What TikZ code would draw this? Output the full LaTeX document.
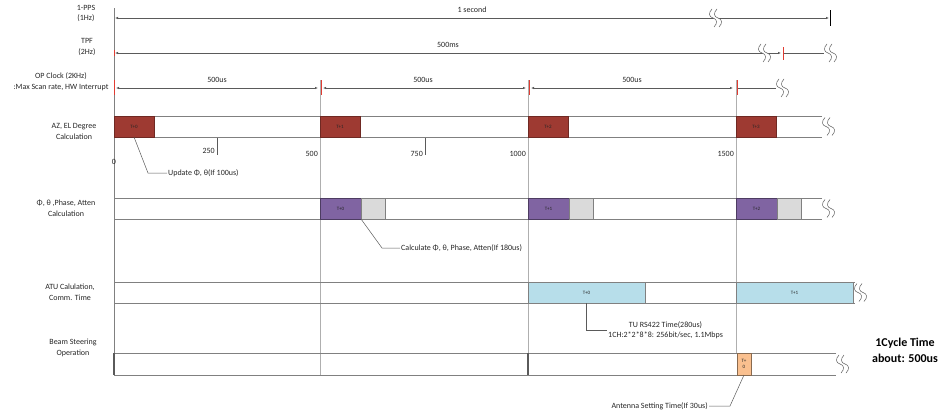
\documentclass[tikz,border=0pt]{standalone}
\usepackage{fontspec}
\setmainfont{Carlito}
\usepackage{tikz}
\usetikzlibrary{arrows.meta, positioning}
\definecolor{azred}{RGB}{158, 58, 50}
\definecolor{phipurple}{RGB}{128, 100, 162}
\definecolor{waitgray}{RGB}{218, 218, 218}
\definecolor{atublue}{RGB}{183, 222, 234}
\definecolor{bsorange}{RGB}{250, 192, 143}
\definecolor{linegray}{RGB}{128, 128, 128}
\definecolor{guidegray}{RGB}{175, 175, 175}
\definecolor{dimgray}{RGB}{90, 90, 90}
\definecolor{tickred}{RGB}{225, 60, 50}

% break mark (two wavy strokes)
\tikzset{
  brk/.pic={
    \fill[white] (-1,-9) .. controls (-5,-5) and (-4,-1) .. (0,0) .. controls (4,1) and (5,5) .. (1,9)
      -- (6,9) .. controls (10,5) and (9,1) .. (5,0) .. controls (1,-1) and (0,-5) .. (4,-9) -- cycle;
    \draw[dimgray, line width=0.5pt] (-1,-9) .. controls (-5,-5) and (-4,-1) .. (0,0) .. controls (4,1) and (5,5) .. (1,9);
    \draw[dimgray, line width=0.5pt] (4,-9) .. controls (0,-5) and (1,-1) .. (5,0) .. controls (9,1) and (10,5) .. (6,9);
  }
}

\begin{document}
\begin{tikzpicture}[x=1pt, y=-1pt, font=\fontsize{8}{10.5}\selectfont, text=black!85,
  lbl/.style={align=center, inner sep=0pt},
  barline/.style={draw=linegray, line width=0.9pt},
  guide/.style={draw=guidegray, line width=0.5pt},
  dimline/.style={draw=dimgray, line width=0.8pt, {Latex[length=3pt,width=2.4pt]}-{Latex[length=3pt,width=2.4pt]}},
  redtick/.style={draw=tickred, line width=0.8pt},
  tbox/.style={anchor=west, minimum height=21pt, inner sep=0pt, outer sep=0pt, line width=0.7pt, font=\fontsize{5}{5.5}\selectfont},
  azbox/.style={tbox, fill=azred, draw=azred!70!black, minimum width=40pt},
  phibox/.style={tbox, fill=phipurple, draw=phipurple!60!black, minimum width=41pt},
  waitbox/.style={tbox, fill=waitgray, draw=linegray, minimum width=24pt},
  atubox/.style={tbox, fill=atublue, draw=linegray, minimum width=117pt},
  bsbox/.style={tbox, fill=bsorange, draw=bsorange!55!black, minimum width=14pt, align=center},
  callout/.style={draw=dimgray, line width=0.5pt},
  note/.style={inner sep=1pt}]
\useasboundingbox (0,0) rectangle (945,416);

% Row labels
\node[lbl] (lblpps) at (86,13.5) {1-PPS\\(1Hz)};
\node[lbl] (lbltpf) at (87,47) {TPF\\(2Hz)};
\node[lbl] (lblclk) at (61,81.5) {OP Clock (2KHz)\\:Max Scan rate, HW Interrupt};
\node[lbl] (lblaz) at (74,131.5) {AZ, EL Degree\\Calculation};
\node[lbl] (lblphi) at (66,208) {Φ, θ ,Phase, Atten\\Calculation};
\node[lbl] (lblatu) at (70,292) {ATU Calulation,\\Comm. Time};
\node[lbl] (lblbs) at (73,348) {Beam Steering\\Operation};

% Guide lines
\draw[guide, draw=linegray] (114,8) -- (114,375);
\foreach \x in {320,528} {
    \draw[guide] (\x,80) -- (\x,375);
}
\draw[guide] (736,80) -- (736,353);

% 1-PPS
\draw[dimline] (115,18) -- (829,18);
\draw[black, line width=0.5pt] (830,10) -- (830,26);
\node (sec) at (472,10) {1 second};
\pic at (713,18) {brk};

% TPF
\draw[dimline] (115,53) -- (781,53);
\draw[draw=dimgray, line width=0.8pt] (783,53) -- (824,53);
\draw[redtick] (114.5,50) -- (114.5,56);
\draw[redtick] (783,47) -- (783,60);
\node (ms) at (448,45) {500ms};
\pic at (762,53) {brk};
\pic at (828,53) {brk};

% OP clock
\foreach \a/\b/\m in {116/318/217, 323/526/423, 531/733/632} {
    \draw[dimline] (\a,88) -- (\b,88);
    \node at (\m,80) {500us};
}
\draw[draw=dimgray, line width=0.8pt] (738,88) -- (776,88);
\foreach \x in {114.5,321,529,737} {
    \draw[redtick] (\x,80) -- (\x,95);
}
\pic at (780,88) {brk};

% AZ, EL bar
\draw[barline] (822,116) -- (114,116) -- (114,137) -- (822,137);
\foreach \x/\t in {114/0, 320/1, 528/2, 736/3} {
    \node[azbox] (az\t) at (\x,126.5) {T+\t};
}
\pic at (826,126.5) {brk};

% Scale
\draw[dimgray, line width=0.5pt] (217,138) -- (217,155);
\draw[dimgray, line width=0.5pt] (425,138) -- (425,155);
\node[anchor=base] (s0) at (114,164) {0};
\node[anchor=base east, inner sep=1pt] (s250) at (216,153) {250};
\node[anchor=base east, inner sep=1pt] (s500) at (319,156) {500};
\node[anchor=base east, inner sep=1pt] (s750) at (424,156) {750};
\node[anchor=base east, inner sep=1pt] (s1000) at (527,156) {1000};
\node[anchor=base east, inner sep=1pt] (s1500) at (735,156) {1500};

% Update callout
\node[note, anchor=west] (upd) at (167,173) {Update Φ, θ(If 100us)};
\draw[callout] (az0.south) -- (148,173) -- (upd.west);

% Phi, theta bar
\draw[barline] (822,198) -- (114,198) -- (114,219) -- (822,219);
\foreach \x/\t in {320/0, 528/1, 736/2} {
    \node[phibox] (phi\t) at (\x,208.5) {T+\t};
    \node[waitbox] (wait\t) at (phi\t.east) {};
}
\pic at (826,208.5) {brk};

\node[note, anchor=west] (calc) at (400,248) {Calculate Φ, θ, Phase, Atten(If 180us)};
\draw[callout] (phi0.south east) -- (382,248) -- (calc.west);

% ATU bar
\draw[barline] (855,282) -- (114,282) -- (114,303) -- (855,303);
\node[atubox] (atu0) at (528,292.5) {T+0};
\node[atubox] (atu1) at (736,292.5) {T+1};
\pic at (858,292.5) {brk};

\node[note, anchor=west, align=center] (tu) at (607,330) {TU RS422 Time(280us)\\1CH:2*2*8*8: 256bit/sec, 1.1Mbps};
\draw[callout] (atu0.south) |- (tu.west);

% Beam steering bar
\draw[barline] (836,353) -- (114,353) -- (114,375) -- (836,375);
\draw[linegray!70!black, line width=1.3pt] (114,353) -- (114,375);
\draw[linegray!70!black, line width=1.3pt] (528,353) -- (528,375);
\node[bsbox, minimum height=22pt] (bs0) at (737,364) {T+\\0};
\pic at (840,364) {brk};

\node[note, anchor=east] (ant) at (709,406) {Antenna Setting Time(If 30us)};
\draw[callout] (bs0.south) -- (730,406) -- (ant.east);

% Cycle time
\node[font=\bfseries\fontsize{12}{16}\selectfont, align=center, text=black] (cyc) at (905,350) {1Cycle Time\\about: 500us};
\end{tikzpicture}
\end{document}
